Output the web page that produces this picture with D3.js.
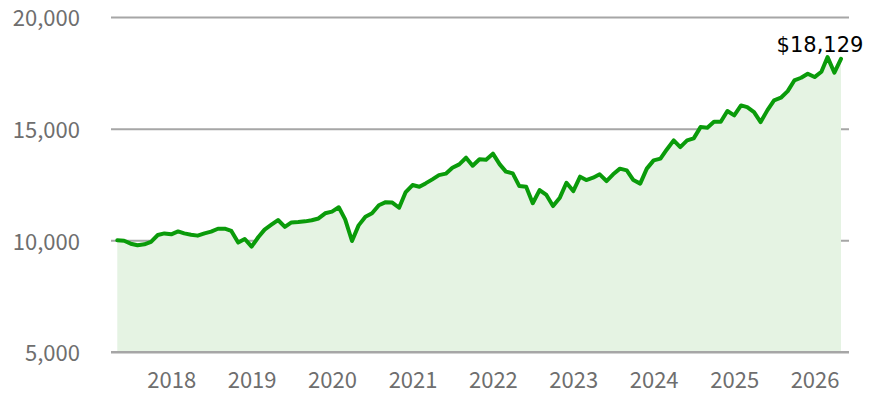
<!DOCTYPE html>
<html>
<head>
<meta charset="utf-8">
<script src="https://cdn.jsdelivr.net/npm/d3@7"></script>
<style>
  html, body { margin: 0; padding: 0; background: #fff; }
  svg { display: block; }
  .axis text { font-family: "Noto Sans CJK JP", "Noto Sans", sans-serif; font-size: 22px; fill: #6e6e6e; }
</style>
</head>
<body>
<svg id="chart" width="878" height="394"></svg>
<script>
// Growth of 10,000: month-end values, first point Apr 2017, last point Apr 2026
const firstMonth = "2017-05-01";   // month-end Apr 30, 2017 stored as start of next month
const values = [
  10000, 9980, 9850, 9780, 9820, 9930, 10240, 10310, 10270, 10400,
  10310, 10250, 10210, 10310, 10390, 10520, 10520, 10420, 9900, 10060,
  9720, 10150, 10480, 10700, 10910, 10600, 10800, 10820, 10850, 10900,
  10980, 11210, 11285, 11480, 10940, 9970, 10670, 11060, 11210, 11570,
  11710, 11690, 11460, 12160, 12475, 12400, 12550, 12730, 12920, 12985,
  13250, 13400, 13700, 13340, 13630, 13610, 13880, 13400, 13075, 13000,
  12430, 12400, 11660, 12250, 12030, 11535, 11910, 12580, 12205, 12850,
  12700, 12805, 12955, 12655, 12955, 13210, 13135, 12700, 12540, 13210,
  13580, 13660, 14070, 14475, 14175, 14475, 14565, 15070, 15045, 15310,
  15310, 15790, 15595, 16040, 15965, 15745, 15295, 15830, 16265, 16385,
  16680, 17160, 17280, 17460, 17310, 17550, 18205, 17505, 18129
];
const yTicks = [5000, 10000, 15000, 20000];
const yearTicks = [2018, 2019, 2020, 2021, 2022, 2023, 2024, 2025, 2026];
const endLabel = "$18,129";

const start = new Date(firstMonth + "T00:00:00Z");
const data = values.map((v, i) => ({ date: d3.utcMonth.offset(start, i), value: v }));

const svg = d3.select("#chart");
const plot = { left: 111, right: 849, top: 17, bottom: 352 };

const x = d3.scaleUtc()
  .domain([data[0].date, data[data.length - 1].date])
  .range([117.3, 841]);
const y = d3.scaleLinear()
  .domain([5000, 20000])
  .range([plot.bottom, plot.top]);

// horizontal gridlines with value labels
const yAxis = svg.append("g")
  .attr("class", "axis y")
  .attr("transform", `translate(${plot.left},0)`)
  .call(d3.axisLeft(y)
    .tickValues(yTicks)
    .tickSize(-(plot.right - plot.left))
    .tickPadding(31)
    .tickFormat(d3.format(",")));
yAxis.select(".domain").remove();
yAxis.selectAll(".tick line").attr("stroke", "#a6a6a6").attr("stroke-width", 2);
yAxis.selectAll(".tick text").attr("dy", "0.4em");

// shaded area under the line
svg.append("path")
  .datum(data)
  .attr("fill", "#e5f3e3")
  .attr("d", d3.area()
    .x(d => x(d.date))
    .y0(y(5000))
    .y1(d => y(d.value)));

// baseline drawn over the area
svg.append("line")
  .attr("x1", plot.left).attr("x2", plot.right)
  .attr("y1", y(5000)).attr("y2", y(5000))
  .attr("stroke", "#a6a6a6").attr("stroke-width", 2);

// value line
svg.append("path")
  .datum(data)
  .attr("fill", "none")
  .attr("stroke", "#0a9b0a")
  .attr("stroke-width", 4)
  .attr("stroke-linejoin", "round")
  .attr("stroke-linecap", "round")
  .attr("d", d3.line()
    .x(d => x(d.date))
    .y(d => y(d.value)));

// year labels
const xAxis = svg.append("g")
  .attr("class", "axis x")
  .attr("transform", `translate(0,${plot.bottom})`)
  .call(d3.axisBottom(x)
    .tickValues(yearTicks.map(yr => new Date(Date.UTC(yr, 0, 1))))
    .tickSize(0)
    .tickPadding(20)
    .tickFormat(d3.utcFormat("%Y")));
xAxis.select(".domain").remove();

// ending value label
const last = data[data.length - 1];
svg.append("text")
  .attr("x", x(last.date) - 21)
  .attr("y", y(last.value) - 7)
  .attr("text-anchor", "middle")
  .attr("font-family", "DejaVu Sans, sans-serif")
  .attr("font-size", 21)
  .attr("fill", "#000")
  .text(endLabel);
</script>
</body>
</html>
